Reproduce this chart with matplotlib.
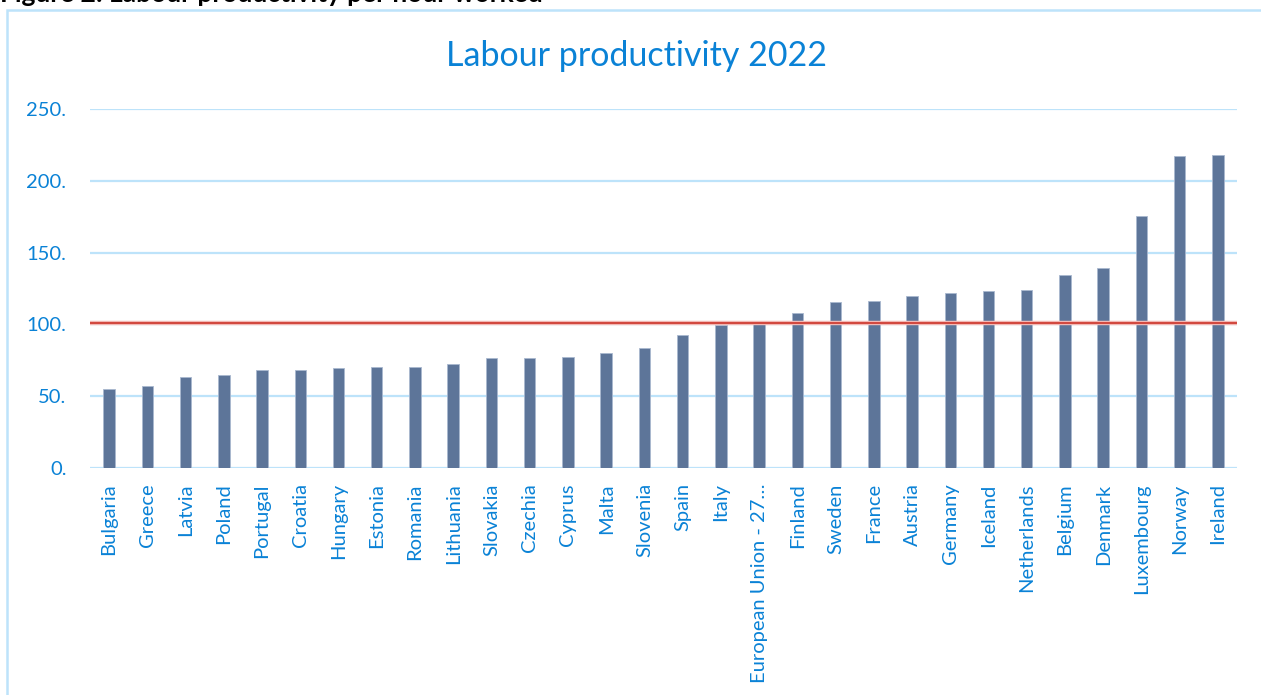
import matplotlib
matplotlib.use("Agg")
import matplotlib.pyplot as plt
from matplotlib.patches import Rectangle

plt.rcParams['font.family'] = ['Lato', 'DejaVu Sans']

countries = ['Bulgaria', 'Greece', 'Latvia', 'Poland', 'Portugal', 'Croatia',
             'Hungary', 'Estonia', 'Romania', 'Lithuania', 'Slovakia', 'Czechia',
             'Cyprus', 'Malta', 'Slovenia', 'Spain', 'Italy',
             'European Union - 27\u2026', 'Finland', 'Sweden', 'France', 'Austria',
             'Germany', 'Iceland', 'Netherlands', 'Belgium', 'Denmark',
             'Luxembourg', 'Norway', 'Ireland']
productivity = [55.2, 57.1, 63.4, 65.0, 68.0, 68.5, 69.4, 70.1, 70.3, 72.4,
                76.6, 76.6, 77.3, 80.0, 83.6, 92.6, 99.8, 100.3, 107.9, 115.4,
                116.3, 119.6, 121.9, 123.3, 123.7, 134.2, 139.5, 175.3, 217.3,
                217.8]
eu_level = 101
yticks = [0, 50, 100, 150, 200, 250]

BLUE_TXT = '#0a82d6'
GRID = '#bde3fa'
BAR = '#5d7599'

fig = plt.figure(figsize=(12.61, 6.95), dpi=100)
W, H = 1261, 695
ax = fig.add_axes([90 / W, (H - 468) / H, (1237 - 90) / W, (468 - 109) / H])

x = range(len(countries))
ax.bar(x, productivity, width=0.30, color=BAR, edgecolor='#a9b8cf',
       linewidth=0.6, zorder=3)
ax.axhline(eu_level, color='#f2b8b4', lw=3.2, zorder=4)
ax.axhline(eu_level, color='#d2463d', lw=1.4, zorder=5)

ax.set_xlim(-0.5, len(countries) - 0.5)
ax.set_ylim(0, 250)
ax.set_yticks(yticks)
ax.set_yticklabels([f'{v}.' for v in yticks])
ax.set_xticks(list(x))
ax.set_xticklabels(countries, rotation=90)
ax.tick_params(axis='both', length=0, labelcolor=BLUE_TXT)
ax.tick_params(axis='y', pad=17, labelsize=14.5)
ax.tick_params(axis='x', pad=11, labelsize=14.5)

ax.grid(axis='y', color=GRID, lw=1.6, zorder=0)
for s in ax.spines.values():
    s.set_visible(False)

# chart title, centred on the chart frame rather than the plot area
fig.text(637 / W, (H - 66) / H, 'Labour productivity 2022', fontsize=24.5,
         color=BLUE_TXT, ha='center', va='baseline')

# chart frame running off the right and bottom edges
fig.patches.append(Rectangle((7 / W, -0.05), 1.1, (H - 10) / H + 0.05,
                             transform=fig.transFigure, fill=False,
                             edgecolor=GRID, lw=1.8))

fig.text(0.0, (H - 2) / H, 'Figure 2: Labour productivity per hour worked',
         fontsize=19, fontweight='bold', color='black', va='baseline', ha='left')

fig.savefig('out.png', dpi=100)
